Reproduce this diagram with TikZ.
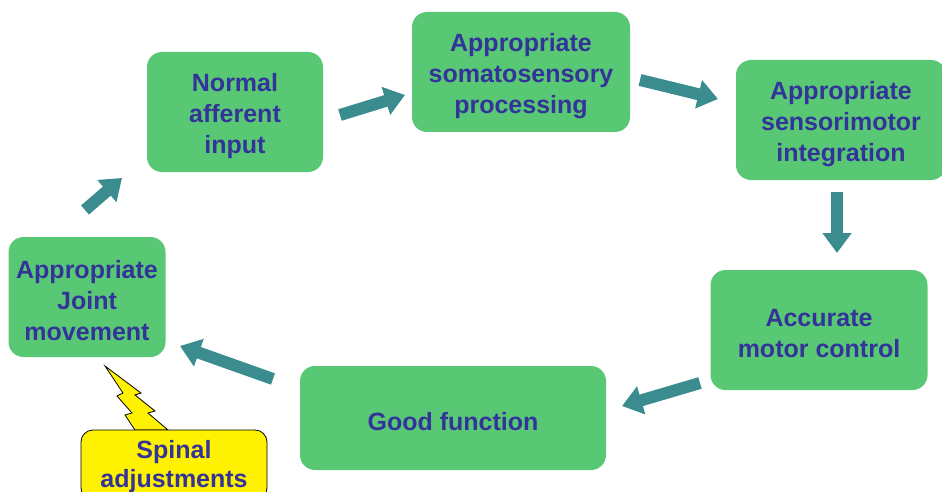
\documentclass[tikz,border=0pt]{standalone}
\usepackage{fontspec}
\setmainfont{Liberation Sans}
\usetikzlibrary{arrows.meta}

\definecolor{boxgreen}{RGB}{88,200,116}
\definecolor{flowteal}{RGB}{58,140,142}
\definecolor{textblue}{RGB}{51,51,153}

\begin{document}
\begin{tikzpicture}[x=1pt, y=-1pt,
    stage/.style={rectangle, rounded corners=15pt, fill=boxgreen, inner sep=0pt},
    words/.style={align=center, text=textblue, inner sep=0pt, yshift=-4pt,
        font=\fontsize{25}{31}\selectfont\bfseries},
    flow/.style={draw=flowteal, line width=12pt,
        -{Triangle[width=28pt,length=20pt]}},
    bolt/.style={fill=yellow, draw=black, line width=0.8pt, line join=miter}]

    \useasboundingbox (0,0) rectangle (942,492);

    % Stages of the cycle
    \node[stage, minimum width=176, minimum height=120] (afferent) at (235,112)
        [label={[words]center:Normal\\afferent\\input}] {};
    \node[stage, minimum width=218, minimum height=120] (processing) at (521,72)
        [label={[words]center:Appropriate\\somatosensory\\processing}] {};
    \node[stage, minimum width=210, minimum height=120] (integration) at (841,120)
        [label={[words]center:Appropriate\\sensorimotor\\integration}] {};
    \node[stage, minimum width=217, minimum height=120] (motor) at (819,330)
        [label={[words]center:Accurate\\motor control}] {};
    \node[stage, minimum width=306, minimum height=104] (function) at (453,418)
        [label={[words]center:Good function}] {};
    \node[stage, minimum width=157, minimum height=120] (joint) at (87,297)
        [label={[words]center:Appropriate\\Joint\\movement}] {};

    % Arrow ends between the stages
    \coordinate (j-a) at (85,210);   \coordinate (a-j) at (122,178);
    \coordinate (a-p) at (340,115);  \coordinate (p-a) at (405,95);
    \coordinate (p-i) at (640,80);   \coordinate (i-p) at (718,99);
    \coordinate (i-m) at (837,192);  \coordinate (m-i) at (837,253);
    \coordinate (m-f) at (700,383);  \coordinate (f-m) at (622,406);
    \coordinate (f-j) at (273,379);  \coordinate (j-f) at (180,346);

    \draw[flow] (j-a) -- (a-j);
    \draw[flow] (a-p) -- (p-a);
    \draw[flow] (p-i) -- (i-p);
    \draw[flow] (i-m) -- (m-i);
    \draw[flow] (m-f) -- (f-m);
    \draw[flow] (f-j) -- (j-f);

    % Lightning bolt and spinal adjustments
    \draw[bolt] (105,366) -- (141,393) -- (135,395) -- (155,411) -- (148,413)
        -- (168,430) -- (135,430) -- (125,415) -- (132,413) -- (117,396)
        -- (123,393) -- cycle;
    \node[stage, fill=yellow, draw=black, line width=0.8pt, rounded corners=12pt,
        minimum width=186, minimum height=70] (spinal) at (174,465)
        [label={[words, yshift=2pt, font=\fontsize{25}{29}\selectfont\bfseries]center:Spinal\\adjustments}] {};

\end{tikzpicture}
\end{document}
